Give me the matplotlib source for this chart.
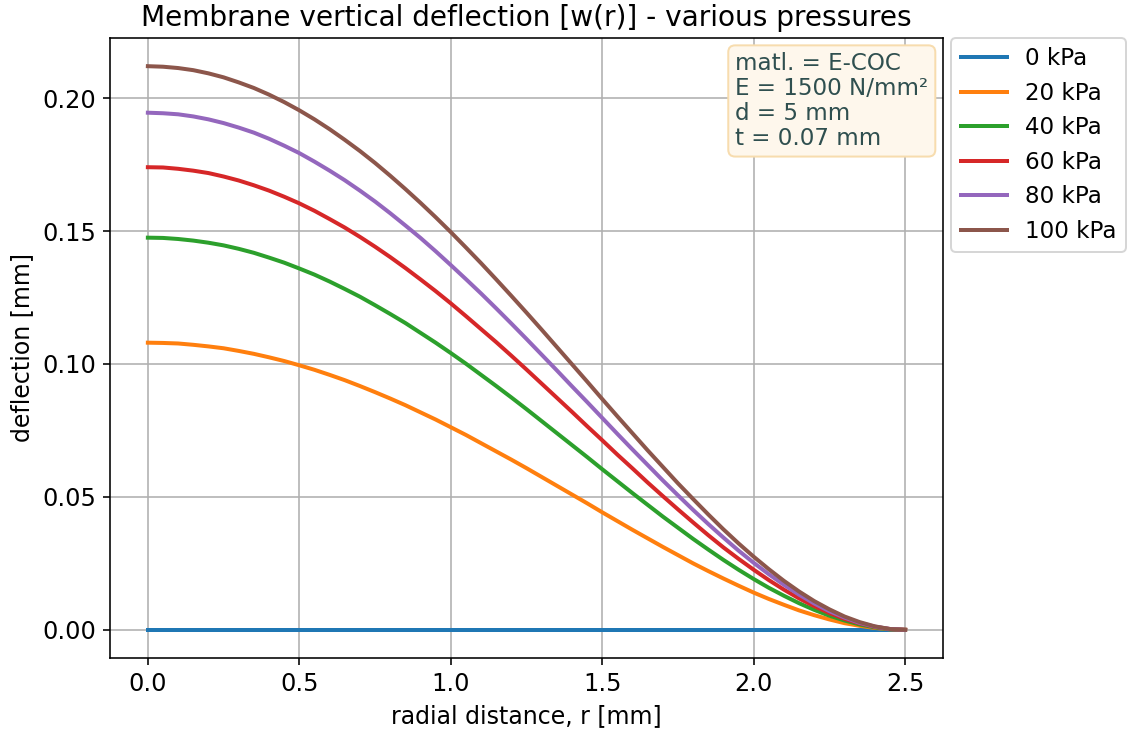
import matplotlib
matplotlib.use("Agg")
import matplotlib.pyplot as plt

r_mm = [0.00, 0.05, 0.10, 0.15, 0.20, 0.25, 0.30, 0.35, 0.40, 0.45,
        0.50, 0.55, 0.60, 0.65, 0.70, 0.75, 0.80, 0.85, 0.90, 0.95,
        1.00, 1.05, 1.10, 1.15, 1.20, 1.25, 1.30, 1.35, 1.40, 1.45,
        1.50, 1.55, 1.60, 1.65, 1.70, 1.75, 1.80, 1.85, 1.90, 1.95,
        2.00, 2.05, 2.10, 2.15, 2.20, 2.25, 2.30, 2.35, 2.40, 2.45, 2.50]

labels = ["0 kPa", "20 kPa", "40 kPa", "60 kPa", "80 kPa", "100 kPa"]

w_0kPa = [0.0] * 51
w_20kPa = [0.1080, 0.1079, 0.1077, 0.1072, 0.1066, 0.1059, 0.1049, 0.1038, 0.1025, 0.1011,
           0.0995, 0.0978, 0.0959, 0.0939, 0.0917, 0.0894, 0.0870, 0.0845, 0.0818, 0.0791,
           0.0762, 0.0733, 0.0702, 0.0671, 0.0640, 0.0608, 0.0575, 0.0542, 0.0509, 0.0476,
           0.0442, 0.0409, 0.0376, 0.0344, 0.0312, 0.0281, 0.0250, 0.0221, 0.0193, 0.0166,
           0.0140, 0.0116, 0.0094, 0.0073, 0.0055, 0.0039, 0.0025, 0.0015, 0.0007, 0.0002, 0.0]
w_40kPa = [0.1475, 0.1474, 0.1470, 0.1464, 0.1456, 0.1446, 0.1433, 0.1418, 0.1400, 0.1381,
           0.1359, 0.1336, 0.1310, 0.1282, 0.1253, 0.1221, 0.1188, 0.1154, 0.1117, 0.1080,
           0.1041, 0.1001, 0.0959, 0.0917, 0.0874, 0.0830, 0.0785, 0.0740, 0.0695, 0.0650,
           0.0604, 0.0559, 0.0514, 0.0470, 0.0426, 0.0384, 0.0342, 0.0302, 0.0263, 0.0226,
           0.0191, 0.0158, 0.0128, 0.0100, 0.0075, 0.0053, 0.0035, 0.0020, 0.0009, 0.0002, 0.0]
w_60kPa = [0.1740, 0.1739, 0.1734, 0.1727, 0.1718, 0.1705, 0.1690, 0.1672, 0.1652, 0.1629,
           0.1604, 0.1576, 0.1545, 0.1513, 0.1478, 0.1441, 0.1402, 0.1361, 0.1318, 0.1274,
           0.1228, 0.1180, 0.1131, 0.1082, 0.1031, 0.0979, 0.0926, 0.0873, 0.0820, 0.0766,
           0.0713, 0.0659, 0.0607, 0.0554, 0.0503, 0.0453, 0.0404, 0.0356, 0.0310, 0.0267,
           0.0226, 0.0187, 0.0151, 0.0118, 0.0089, 0.0063, 0.0041, 0.0024, 0.0011, 0.0003, 0.0]
w_80kPa = [0.1945, 0.1943, 0.1939, 0.1931, 0.1920, 0.1906, 0.1889, 0.1870, 0.1847, 0.1821,
           0.1793, 0.1761, 0.1727, 0.1691, 0.1652, 0.1611, 0.1567, 0.1521, 0.1474, 0.1424,
           0.1372, 0.1319, 0.1265, 0.1209, 0.1152, 0.1094, 0.1035, 0.0976, 0.0916, 0.0857,
           0.0797, 0.0737, 0.0678, 0.0620, 0.0562, 0.0506, 0.0451, 0.0398, 0.0347, 0.0298,
           0.0252, 0.0209, 0.0169, 0.0132, 0.0099, 0.0070, 0.0046, 0.0026, 0.0012, 0.0003, 0.0]
w_100kPa = [0.2120, 0.2118, 0.2113, 0.2105, 0.2093, 0.2078, 0.2059, 0.2038, 0.2013, 0.1985,
            0.1954, 0.1920, 0.1883, 0.1843, 0.1801, 0.1756, 0.1708, 0.1658, 0.1606, 0.1552,
            0.1496, 0.1438, 0.1379, 0.1318, 0.1256, 0.1193, 0.1129, 0.1064, 0.0999, 0.0934,
            0.0868, 0.0803, 0.0739, 0.0675, 0.0613, 0.0551, 0.0492, 0.0434, 0.0378, 0.0325,
            0.0275, 0.0228, 0.0184, 0.0144, 0.0108, 0.0077, 0.0050, 0.0029, 0.0013, 0.0003, 0.0]

series = [w_0kPa, w_20kPa, w_40kPa, w_60kPa, w_80kPa, w_100kPa]

info_text = "matl. = E-COC\nE = 1500 N/mm²\nd = 5 mm\nt = 0.07 mm"

fig = plt.figure(figsize=(1128 / 144, 734 / 144), dpi=144)
ax = fig.add_axes([110 / 1128, 76 / 734, 833 / 1128, 620 / 734])

for w, lab in zip(series, labels):
    ax.plot(r_mm, w, label=lab, linewidth=2.0)

ax.grid(True)
ax.tick_params(labelsize=12)
ax.set_title("Membrane vertical deflection [w(r)] - various pressures", fontsize=14)
ax.set_xlabel("radial distance, r [mm]", fontsize=11.8)
ax.set_ylabel("deflection [mm]", fontsize=11.8)

ax.text(0.7505, 0.977, info_text, transform=ax.transAxes, va="top", ha="left",
        fontsize=11.5, color="darkslategray", linespacing=1.1,
        bbox=dict(boxstyle="round", facecolor="#FEF7EC", edgecolor="#F7DCAE"))

ax.legend(loc="upper left", bbox_to_anchor=(1.01, 1.0), borderaxespad=0,
          fontsize=11.5)

fig.savefig("out.png", dpi=144)
